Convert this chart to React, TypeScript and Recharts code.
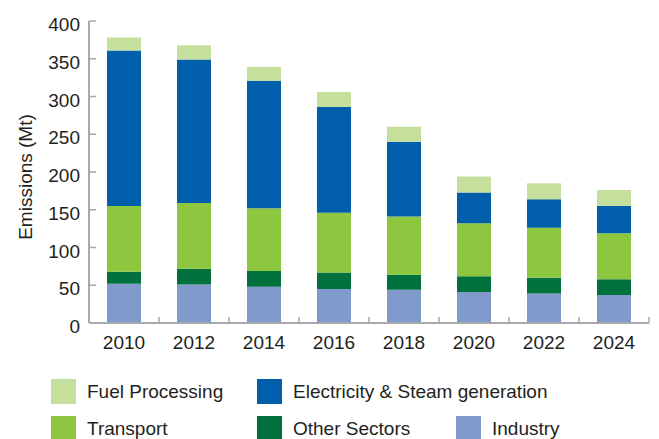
import React from "react";
import { BarChart, Bar, XAxis, YAxis } from "recharts";

const years = ["2010", "2012", "2014", "2016", "2018", "2020", "2022", "2024"];
const industry = [52, 51, 48, 45, 44, 41, 39, 37];
const otherSectors = [16, 21, 21, 22, 20, 21, 21, 21];
const transport = [87, 87, 83, 79, 77, 70, 66, 61];
const electricity = [206, 190, 169, 140, 99, 41, 38, 36];
const fuelProcessing = [17, 19, 18, 20, 20, 21, 21, 21];
const yTicks = [0, 50, 100, 150, 200, 250, 300, 350, 400];

const data = years.map((year, i) => ({
	year,
	industry: industry[i],
	other: otherSectors[i],
	transport: transport[i],
	electricity: electricity[i],
	fuel: fuelProcessing[i],
}));

const FONT = "'Liberation Sans', Arial, Helvetica, sans-serif";
const TEXT = "#231f20";
const AXIS = "#a7a9ac";

const series = [
	{ key: "industry", name: "Industry", color: "#7f9acb" },
	{ key: "other", name: "Other Sectors", color: "#00703c" },
	{ key: "transport", name: "Transport", color: "#8dc63f" },
	{ key: "electricity", name: "Electricity & Steam generation", color: "#005eab" },
	{ key: "fuel", name: "Fuel Processing", color: "#c5e09d" },
];

const legendRows = [
	[
		{ name: "Fuel Processing", color: "#c5e09d", x: 51 },
		{ name: "Electricity & Steam generation", color: "#005eab", x: 257 },
	],
	[
		{ name: "Transport", color: "#8dc63f", x: 51 },
		{ name: "Other Sectors", color: "#00703c", x: 257 },
		{ name: "Industry", color: "#7f9acb", x: 456 },
	],
];

const XTick = (props: any) => {
	const { x, y, payload } = props;
	const half = payload && payload.offset ? payload.offset : 35;
	return (
		<g>
			<line x1={x + half} x2={x + half} y1={y - 8} y2={y - 14} stroke={AXIS} strokeWidth={1.5} />
			<text x={x} y={y + 18} textAnchor="middle" fontSize={19} fontFamily={FONT} fill={TEXT}>
				{payload.value}
			</text>
		</g>
	);
};

const YTick = (props: any) => {
	const { x, y, payload } = props;
	return (
		<g>
			<line x1={x + 8} x2={x + 15} y1={y} y2={y} stroke={AXIS} strokeWidth={1.5} />
			<text x={x - 1} y={y + 10} textAnchor="end" fontSize={19} fontFamily={FONT} fill={TEXT}>
				{payload.value}
			</text>
		</g>
	);
};

const YLabel = (props: any) => {
	const { viewBox } = props;
	const cx = viewBox.x + 25;
	const cy = viewBox.y + viewBox.height / 2 + 5;
	return (
		<text
			x={cx}
			y={cy}
			transform={`rotate(-90, ${cx}, ${cy})`}
			textAnchor="middle"
			dominantBaseline="central"
			fontSize={19}
			fontFamily={FONT}
			fill={TEXT}
		>
			Emissions (Mt)
		</text>
	);
};

export default function App() {
	return (
		<div style={{ position: "absolute", left: 0, top: 0, width: 659, height: 439, background: "#fff" }}>
			<BarChart width={659} height={439} data={data} margin={{ top: 21, right: 10, left: 0, bottom: 86 }} barSize={34}>
				<XAxis
					dataKey="year"
					height={30}
					axisLine={{ stroke: AXIS, strokeWidth: 2 }}
					tickLine={false}
					tick={<XTick />}
					interval={0}
				/>
				<YAxis
					width={89}
					domain={[0, 400]}
					ticks={yTicks}
					axisLine={{ stroke: AXIS, strokeWidth: 2 }}
					tickLine={false}
					tick={<YTick />}
					label={<YLabel />}
				/>
				{series.map((s) => (
					<Bar key={s.key} dataKey={s.key} name={s.name} stackId="a" fill={s.color} isAnimationActive={false} />
				))}
			</BarChart>
			{legendRows.map((row, r) =>
				row.map((item) => (
					<div
						key={item.name}
						style={{
							position: "absolute",
							left: item.x,
							top: 379 + r * 37,
							display: "flex",
							alignItems: "center",
							fontFamily: FONT,
							fontSize: 19,
							color: TEXT,
							whiteSpace: "nowrap",
						}}
					>
						<span style={{ width: 25, height: 25, background: item.color, display: "inline-block", marginRight: 11 }} />
						<span>{item.name}</span>
					</div>
				))
			)}
		</div>
	);
}
